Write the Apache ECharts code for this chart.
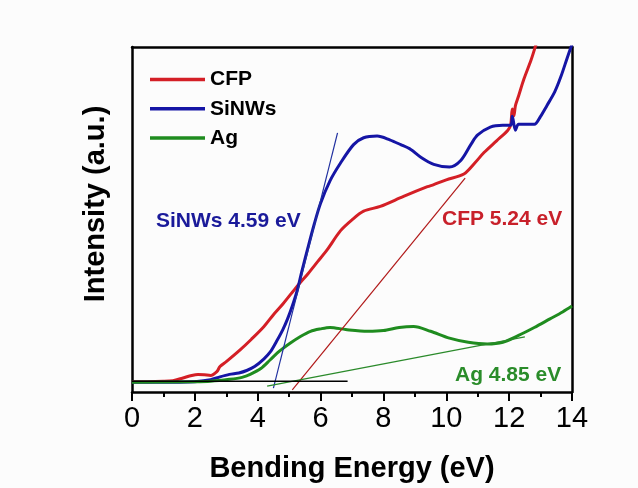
<!DOCTYPE html>
<html>
<head>
<meta charset="utf-8">
<script src="https://cdn.jsdelivr.net/npm/echarts@6/dist/echarts.min.js"></script>
<style>
html,body{margin:0;padding:0;background:#fcfcfc;overflow:hidden;}
#chart{width:638px;height:488px;}
</style>
</head>
<body>
<div id="chart"></div>
<script>
// Energy (eV) and intensity (a.u.)
const cfpE = [0,0.5,1.0,1.3,1.6,1.9,2.1,2.3,2.5,2.7,2.8,3.0,3.44,3.8,4.2,4.5,4.8,5.25,5.6,5.9,6.2,6.63,7.0,7.37,7.9,8.64,9.4,9.6,10.0,10.56,10.9,11.2,11.6,11.96,12.05,12.1,12.15,12.2,12.3,12.47,12.7,12.85,13.0];
const cfpI = [3.0,3.0,3.1,3.3,4.0,4.8,5.1,5.0,4.8,5.9,7.4,8.8,12.2,15.3,19.0,22.4,25.5,30.6,34.3,37.7,41.1,46.7,49.9,52.4,53.8,56.7,59.5,60.1,61.5,63.2,66.3,69.4,72.8,75.9,77.5,82.0,80.0,83.0,85.8,90.7,96.3,100.6,105];

const sinwE = [0,1.5,2.0,2.5,2.8,3.1,3.4,3.65,3.9,4.2,4.4,4.6,4.8,4.95,5.1,5.25,5.4,5.6,5.8,6.0,6.3,6.63,7.05,7.37,7.8,8.2,8.55,8.87,9.2,9.6,10.1,10.46,10.8,11.0,11.4,11.8,12.05,12.1,12.2,12.3,12.8,13.0,13.2,13.45,13.65,13.85,13.97,14.0];
const sinwI = [2.83,2.83,2.97,3.54,4.39,5.10,5.52,6.23,7.37,9.63,11.6,14.7,18.1,21.2,24.9,29.2,34.8,41.9,48.7,54.7,61.2,66.3,71.7,73.7,74.2,73.1,71.7,70.3,68.0,66.0,65.2,67.1,72.0,74.5,76.8,77.3,77.3,79.9,75.9,77.6,77.6,79.9,83.0,87.0,91.5,96.9,100,100.8];

const agE = [0,2.0,2.5,3.1,3.5,3.76,4.1,4.4,4.7,5.04,5.36,5.68,6.0,6.3,6.8,7.5,8.0,8.5,8.96,9.5,10.1,10.7,11.3,11.8,12.3,12.8,13.3,13.7,14.0];
const agI = [2.83,2.97,3.12,3.68,4.25,5.10,6.80,9.35,11.9,14.2,16.1,17.6,18.3,18.7,18.1,17.6,17.8,18.7,19.0,17.6,15.6,14.4,13.9,14.4,16.4,18.7,21.2,23.2,24.9];

// tangent / baseline segments [E, I]
const sinwTangent = [[4.5,1.1],[6.54,75.1]];
const cfpTangent = [[5.1,0.6],[10.6,62.0]];
const agTangent = [[4.3,1.7],[12.5,16.0]];
const baseLine = [[0,3.1],[6.86,3.1]];

const xTicks = {min:0, max:14, interval:2};
const labels = ['SiNWs 4.59 eV','CFP 5.24 eV','Ag 4.85 eV'];

const zip = (a,b) => a.map((v,i)=>[v,b[i]]);
const FONT = '"Liberation Sans", Arial, sans-serif';

const chart = echarts.init(document.getElementById('chart'));
chart.setOption({
  backgroundColor:'#fcfcfc',
  animation:false,
  grid:{left:132, right:66, top:47, bottom:88},
  legend:{
    data:['CFP','SiNWs','Ag'], orient:'vertical', left:145, top:64,
    itemWidth:55, itemHeight:3.5, icon:'rect', itemGap:8.3,
    textStyle:{fontSize:21, fontWeight:'bold', fontFamily:FONT, color:'#000'}
  },
  xAxis:[{
    type:'value', min:xTicks.min, max:xTicks.max, interval:xTicks.interval, position:'bottom',
    axisLine:{onZero:false, lineStyle:{color:'#000', width:2.5}},
    axisTick:{length:9, lineStyle:{color:'#000', width:2}},
    minorTick:{show:true, splitNumber:2, length:5, lineStyle:{color:'#000', width:2}},
    axisLabel:{fontSize:29, color:'#000', fontFamily:FONT, margin:12},
    splitLine:{show:false},
    name:'Bending Energy (eV)', nameLocation:'middle', nameGap:62,
    nameTextStyle:{fontSize:29, fontWeight:'bold', fontFamily:FONT, color:'#000'}
  },{
    type:'value', min:xTicks.min, max:xTicks.max, position:'top',
    axisLine:{onZero:false, lineStyle:{color:'#000', width:2.5}},
    axisTick:{show:false}, axisLabel:{show:false}, splitLine:{show:false}
  }],
  yAxis:[{
    type:'value', min:0, max:100, position:'left',
    axisLine:{show:true, onZero:false, lineStyle:{color:'#000', width:2.5}},
    axisTick:{show:false}, axisLabel:{show:false}, splitLine:{show:false},
    name:'Intensity (a.u.)', nameLocation:'middle', nameGap:22,
    nameTextStyle:{fontSize:29, fontWeight:'bold', fontFamily:FONT, color:'#000', padding:[0,0,0,31]}
  },{
    type:'value', min:0, max:100, position:'right',
    axisLine:{show:true, onZero:false, lineStyle:{color:'#000', width:2.5}},
    axisTick:{show:false}, axisLabel:{show:false}, splitLine:{show:false}
  }],
  series:[
    {name:'CFP', type:'line', data:zip(cfpE,cfpI), showSymbol:false, smooth:0.3, color:'#d41f26', lineStyle:{width:3}},
    {name:'SiNWs', type:'line', data:zip(sinwE,sinwI), showSymbol:false, smooth:0.3, color:'#1515a5', lineStyle:{width:3}},
    {name:'Ag', type:'line', data:zip(agE,agI), showSymbol:false, smooth:0.3, color:'#1f8c1f', lineStyle:{width:3}},
    {name:'t1', type:'line', data:sinwTangent, showSymbol:false, color:'#2030a0', lineStyle:{width:1.2}},
    {name:'t2', type:'line', data:cfpTangent, showSymbol:false, color:'#b01818', lineStyle:{width:1.2}},
    {name:'t3', type:'line', data:agTangent, showSymbol:false, color:'#2a8a2a', lineStyle:{width:1.2}},
    {name:'base', type:'line', data:baseLine, showSymbol:false, color:'#000', lineStyle:{width:1.5}}
  ],
  graphic:[
    {type:'text', left:156, top:211, style:{text:labels[0], fill:'#1a1a9a', font:'bold 21px '+FONT}},
    {type:'text', left:442, top:209, style:{text:labels[1], fill:'#c8202a', font:'bold 21px '+FONT}},
    {type:'text', left:455, top:365, style:{text:labels[2], fill:'#2a8c2a', font:'bold 21px '+FONT}}
  ]
});
</script>
</body>
</html>
